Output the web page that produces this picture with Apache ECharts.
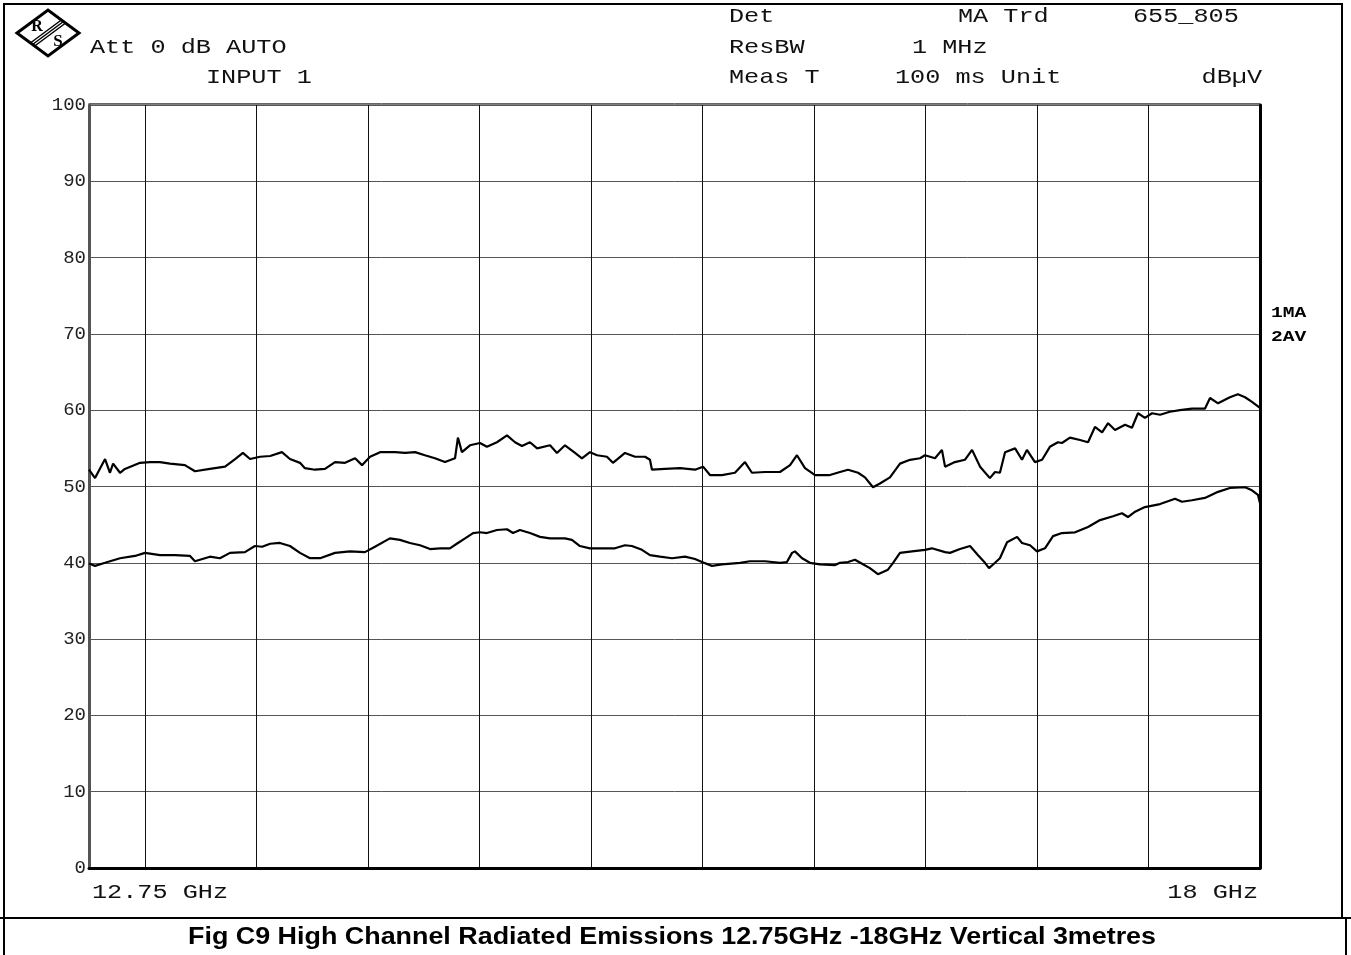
<!DOCTYPE html>
<html>
<head>
<meta charset="utf-8">
<title>Fig C9 High Channel Radiated Emissions</title>
<script src="https://cdn.jsdelivr.net/npm/echarts@6.0.0/dist/echarts.min.js"></script>
<style>
  html, body { margin: 0; padding: 0; background: #fff; }
  #chart { width: 1351px; height: 955px; }
</style>
</head>
<body>
<div id="chart"></div>
<script>
// frequency (GHz) / level (dBuV)
const maFreq = [
  12.750, 12.777, 12.822, 12.844, 12.858, 12.889, 12.911, 12.979, 13.023, 13.068,
  13.113, 13.180, 13.225, 13.292, 13.360, 13.405, 13.440, 13.472, 13.517, 13.562,
  13.615, 13.651, 13.696, 13.718, 13.763, 13.808, 13.853, 13.898, 13.943, 13.974,
  14.010, 14.055, 14.122, 14.167, 14.212, 14.256, 14.301, 14.346, 14.391, 14.404,
  14.422, 14.458, 14.503, 14.534, 14.579, 14.624, 14.660, 14.691, 14.727, 14.759,
  14.817, 14.848, 14.884, 14.929, 14.960, 14.996, 15.028, 15.072, 15.099, 15.153,
  15.198, 15.243, 15.265, 15.274, 15.332, 15.400, 15.467, 15.503, 15.534, 15.588,
  15.646, 15.691, 15.722, 15.781, 15.848, 15.893, 15.924, 15.960, 16.005, 16.072,
  16.117, 16.153, 16.198, 16.229, 16.265, 16.296, 16.341, 16.386, 16.431, 16.476,
  16.498, 16.543, 16.574, 16.588, 16.632, 16.677, 16.709, 16.745, 16.789, 16.812,
  16.834, 16.857, 16.902, 16.933, 16.955, 16.991, 17.023, 17.058, 17.094, 17.112,
  17.148, 17.193, 17.229, 17.260, 17.292, 17.319, 17.350, 17.395, 17.426, 17.453,
  17.484, 17.516, 17.552, 17.596, 17.641, 17.695, 17.753, 17.776, 17.812, 17.865,
  17.901, 17.933, 17.964, 18.000
]
const maLevel = [
  52.2, 51.1, 53.6, 51.8, 53.0, 51.8, 52.3, 53.1, 53.2, 53.2,
  53.0, 52.8, 52.0, 52.3, 52.6, 53.6, 54.4, 53.6, 53.9, 54.0,
  54.5, 53.6, 53.1, 52.4, 52.2, 52.3, 53.2, 53.1, 53.7, 52.8,
  53.9, 54.5, 54.5, 54.4, 54.5, 54.1, 53.7, 53.2, 53.7, 56.4,
  54.5, 55.4, 55.7, 55.2, 55.8, 56.7, 55.8, 55.3, 55.8, 55.0,
  55.4, 54.4, 55.4, 54.4, 53.7, 54.5, 54.1, 53.9, 53.1, 54.4,
  53.9, 53.9, 53.5, 52.2, 52.3, 52.4, 52.2, 52.6, 51.5, 51.5,
  51.8, 53.2, 51.8, 51.9, 51.9, 52.8, 54.1, 52.4, 51.5, 51.5,
  51.9, 52.2, 51.8, 51.2, 49.9, 50.4, 51.2, 53.0, 53.5, 53.7,
  54.1, 53.7, 54.8, 52.6, 53.2, 53.5, 54.8, 52.6, 51.1, 51.9,
  51.8, 54.5, 55.0, 53.5, 54.8, 53.2, 53.5, 55.2, 55.8, 55.7,
  56.4, 56.1, 55.8, 57.8, 57.1, 58.3, 57.4, 58.1, 57.7, 59.6,
  59.0, 59.6, 59.4, 59.8, 60.0, 60.2, 60.2, 61.6, 60.9, 61.7,
  62.1, 61.7, 61.1, 60.3
]

const avFreq = [
  12.750, 12.777, 12.822, 12.889, 12.956, 13.001, 13.068, 13.136, 13.203, 13.225,
  13.292, 13.337, 13.382, 13.449, 13.494, 13.526, 13.562, 13.606, 13.651, 13.696,
  13.741, 13.786, 13.853, 13.920, 13.987, 14.032, 14.099, 14.144, 14.189, 14.234,
  14.279, 14.324, 14.368, 14.404, 14.436, 14.472, 14.503, 14.534, 14.579, 14.624,
  14.651, 14.682, 14.727, 14.772, 14.817, 14.884, 14.915, 14.951, 14.996, 15.041,
  15.108, 15.153, 15.184, 15.229, 15.265, 15.310, 15.364, 15.422, 15.467, 15.498,
  15.543, 15.588, 15.669, 15.713, 15.781, 15.848, 15.879, 15.902, 15.915, 15.947,
  15.982, 16.027, 16.095, 16.117, 16.153, 16.184, 16.220, 16.251, 16.287, 16.332,
  16.355, 16.386, 16.440, 16.498, 16.529, 16.588, 16.610, 16.655, 16.700, 16.736,
  16.767, 16.785, 16.812, 16.834, 16.866, 16.911, 16.933, 16.969, 17.000, 17.036,
  17.072, 17.112, 17.171, 17.229, 17.283, 17.341, 17.381, 17.408, 17.440, 17.484,
  17.552, 17.619, 17.650, 17.695, 17.753, 17.812, 17.865, 17.933, 17.964, 17.991,
  18.000
]
const avLevel = [
  39.9, 39.6, 40.0, 40.6, 40.9, 41.3, 41.0, 41.0, 40.9, 40.2,
  40.8, 40.6, 41.3, 41.4, 42.2, 42.1, 42.5, 42.6, 42.2, 41.3,
  40.6, 40.6, 41.3, 41.5, 41.4, 42.1, 43.2, 43.0, 42.6, 42.3,
  41.8, 41.9, 41.9, 42.6, 43.2, 43.9, 44.0, 43.9, 44.3, 44.4,
  43.9, 44.3, 43.9, 43.4, 43.2, 43.2, 43.0, 42.2, 41.9, 41.9,
  41.9, 42.3, 42.2, 41.7, 41.0, 40.8, 40.6, 40.8, 40.5, 40.1,
  39.6, 39.8, 40.0, 40.2, 40.2, 40.0, 40.1, 41.3, 41.5, 40.6,
  40.0, 39.8, 39.7, 40.0, 40.1, 40.4, 39.8, 39.3, 38.5, 39.1,
  40.0, 41.3, 41.5, 41.7, 41.9, 41.4, 41.3, 41.8, 42.2, 41.0,
  40.0, 39.3, 40.0, 40.6, 42.7, 43.4, 42.6, 42.3, 41.5, 41.9,
  43.5, 43.9, 44.0, 44.7, 45.6, 46.1, 46.5, 46.0, 46.7, 47.3,
  47.7, 48.4, 48.0, 48.2, 48.5, 49.3, 49.8, 49.9, 49.5, 48.9,
  47.8
]

const freqStart = 12.75
const freqStop = 18
const gridFreqs = [ 13, 13.5, 14, 14.5, 15, 15.5, 16, 16.5, 17, 17.5 ]
const xTickLabels = [ '12.75 GHz', '18 GHz' ]
const traceLabels = [ '1MA', '2AV' ]
const caption = 'Fig C9 High Channel Radiated Emissions 12.75GHz -18GHz Vertical 3metres'

const MONO = '"Liberation Mono", "Courier New", monospace'

const zip = ( xs, ys ) => xs.map( ( x, i ) => [ x, ys[ i ] ] )

const headText = ( text, x, y, align ) => ( {
  type : 'text',
  x : x,
  y : y,
  scaleX : 1.2,
  silent : true,
  style : {
    text : text,
    fontFamily : MONO,
    fontSize : 21,
    fill : '#111',
    align : align || 'left',
    verticalAlign : 'middle'
  }
} )

const chart = echarts.init( document.getElementById( 'chart' ), null, { renderer : 'canvas' } )

chart.setOption( {
  animation : false,
  backgroundColor : '#fff',
  grid : {
    left : 89,
    right : 91,
    top : 105,
    bottom : 87,
    show : true,
    borderColor : '#000',
    borderWidth : 1
  },
  xAxis : [
    {
      type : 'value',
      min : freqStart,
      max : freqStop,
      axisLine : { show : true, onZero : false, lineStyle : { color : '#000', width : 3 }},
      axisTick : { show : false, customValues : gridFreqs },
      axisLabel : { show : false },
      splitLine : { show : true, lineStyle : { color : '#111', width : 1 }}
    },
    {
      // second thin line along the top edge
      type : 'value',
      position : 'top',
      offset : 2,
      min : freqStart,
      max : freqStop,
      axisLine : { show : true, onZero : false, lineStyle : { color : '#666', width : 1 }},
      axisTick : { show : false },
      axisLabel : { show : false },
      splitLine : { show : false }
    }
  ],
  yAxis : [
    {
      type : 'value',
      min : 0,
      max : 100,
      interval : 10,
      axisLine : { show : true, lineStyle : { color : '#555', width : 3 }},
      axisTick : { show : false },
      axisLabel : {
        color : '#222',
        fontFamily : MONO,
        fontSize : 19,
        margin : 3
      },
      splitLine : { show : true, lineStyle : { color : '#555', width : 1 }}
    },
    {
      type : 'value',
      position : 'right',
      min : 0,
      max : 100,
      interval : 10,
      axisLine : { show : true, lineStyle : { color : '#000', width : 3 }},
      axisTick : { show : false },
      axisLabel : { show : false },
      splitLine : { show : false }
    }
  ],
  series : [
    {
      name : traceLabels[ 0 ],
      type : 'line',
      data : zip( maFreq, maLevel ),
      showSymbol : false,
      lineStyle : { color : '#000', width : 2.2 },
      z : 5
    },
    {
      name : traceLabels[ 1 ],
      type : 'line',
      data : zip( avFreq, avLevel ),
      showSymbol : false,
      lineStyle : { color : '#000', width : 2.2 },
      z : 5
    }
  ],
  graphic : [
    // outer frame
    {
      type : 'rect',
      silent : true,
      shape : { x : 4, y : 4, width : 1338, height : 914 },
      style : { fill : 'none', stroke : '#000', lineWidth : 2 }
    },
    {
      type : 'line',
      silent : true,
      shape : { x1 : 0, y1 : 918, x2 : 1351, y2 : 918 },
      style : { stroke : '#000', lineWidth : 2 }
    },
    {
      type : 'line',
      silent : true,
      shape : { x1 : 4, y1 : 918, x2 : 4, y2 : 955 },
      style : { stroke : '#000', lineWidth : 2 }
    },
    {
      type : 'line',
      silent : true,
      shape : { x1 : 1346, y1 : 918, x2 : 1346, y2 : 955 },
      style : { stroke : '#000', lineWidth : 2 }
    },
    // R&S logo
    {
      type : 'polygon',
      silent : true,
      shape : { points : [ [ 17, 33 ], [ 48, 10 ], [ 79, 33 ], [ 48, 56 ] ] },
      style : { fill : '#fff', stroke : '#000', lineWidth : 3 }
    },
    {
      type : 'line', silent : true,
      shape : { x1 : 62, y1 : 19.5, x2 : 31, y2 : 42.5 },
      style : { stroke : '#000', lineWidth : 1.5 }
    },
    {
      type : 'line', silent : true,
      shape : { x1 : 63.5, y1 : 21.5, x2 : 32.5, y2 : 44.5 },
      style : { stroke : '#000', lineWidth : 1.5 }
    },
    {
      type : 'line', silent : true,
      shape : { x1 : 65, y1 : 23.5, x2 : 34, y2 : 46.5 },
      style : { stroke : '#000', lineWidth : 1.5 }
    },
    {
      type : 'text', silent : true, x : 37, y : 27,
      style : { text : 'R', fontFamily : '"Liberation Serif", serif', fontWeight : 'bold', fontSize : 16, fill : '#000', align : 'center', verticalAlign : 'middle' }
    },
    {
      type : 'text', silent : true, x : 58, y : 42,
      style : { text : 'S', fontFamily : '"Liberation Serif", serif', fontWeight : 'bold', fontSize : 17, fill : '#000', align : 'center', verticalAlign : 'middle' }
    },
    // instrument header
    headText( 'Att 0 dB AUTO', 90, 47 ),
    headText( 'INPUT 1', 206, 77 ),
    headText( 'Det', 729, 16 ),
    headText( 'MA Trd', 958, 16 ),
    headText( '655_805', 1133, 16 ),
    headText( 'ResBW', 729, 47 ),
    headText( '1 MHz', 912, 47 ),
    headText( 'Meas T', 729, 77 ),
    headText( '100 ms Unit', 895, 77 ),
    headText( 'dBµV', 1262, 77, 'right' ),
    // frequency span labels
    headText( xTickLabels[ 0 ], 92, 892 ),
    headText( xTickLabels[ 1 ], 1258, 892, 'right' ),
    // trace labels on the right
    {
      type : 'text', silent : true, x : 1271, y : 313, scaleX : 1.4,
      style : { text : traceLabels[ 0 ], fontFamily : MONO, fontWeight : 'bold', fontSize : 14, fill : '#000', verticalAlign : 'middle' }
    },
    {
      type : 'text', silent : true, x : 1271, y : 337, scaleX : 1.4,
      style : { text : traceLabels[ 1 ], fontFamily : MONO, fontWeight : 'bold', fontSize : 14, fill : '#000', verticalAlign : 'middle' }
    },
    // caption
    {
      type : 'text', silent : true, x : 672, y : 937, scaleX : 1.12,
      style : { text : caption, fontFamily : '"Liberation Sans", Arial, sans-serif', fontWeight : 'bold', fontSize : 24, fill : '#000', align : 'center', verticalAlign : 'middle' }
    }
  ]
} )

window.addEventListener( 'resize', () => chart.resize() )
</script>
</body>
</html>
